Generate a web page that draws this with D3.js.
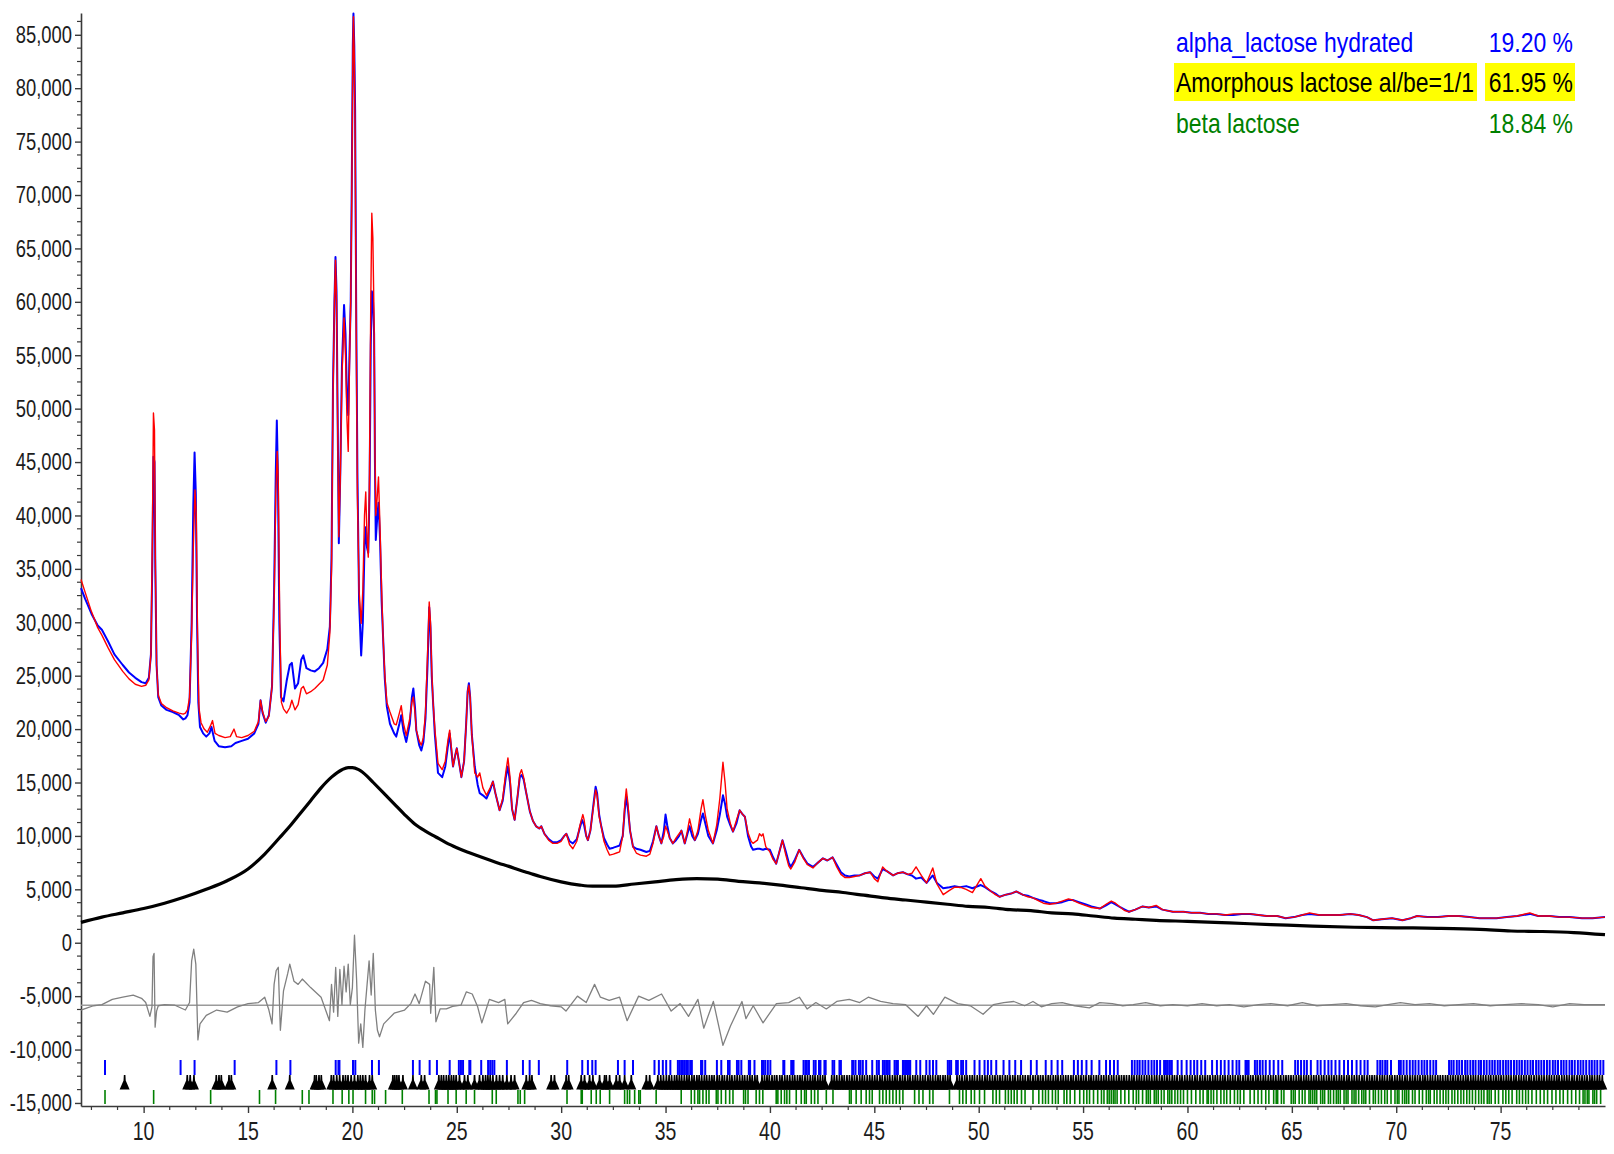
<!DOCTYPE html>
<html>
<head>
<meta charset="utf-8">
<script src="https://cdn.jsdelivr.net/npm/d3@7"></script>
<style>
  body { margin: 0; background: #fff; }
  svg { display: block; }
  text { font-family: "Liberation Sans", Arial, sans-serif; }
</style>
</head>
<body>
<svg id="chart" width="1614" height="1154"></svg>
<script>
// ---- Powder pattern: 2-theta (deg) vs counts ----
const observed = [
[7.0,33200],[7.2,32200],[7.5,30800],[7.8,29700],[8.0,29300],[8.3,28200],[8.6,27000],[9.0,26000],[9.3,25300],[9.6,24800],[9.9,24400],[10.1,24300],[10.25,24800],[10.35,27000],[10.42,36000],[10.47,45500],[10.52,45000],[10.56,35000],[10.62,26000],[10.7,23000],[10.85,22200],[11.1,21800],[11.4,21600],[11.7,21300],[11.9,20900],[12.0,21000],[12.1,21300],[12.2,22500],[12.3,30000],[12.38,41000],[12.44,45900],[12.5,42000],[12.56,30000],[12.62,22500],[12.7,20200],[12.85,19600],[13.0,19300],[13.15,19600],[13.25,20200],[13.4,18900],[13.6,18400],[13.9,18300],[14.2,18400],[14.4,18700],[14.7,18900],[15.0,19100],[15.3,19600],[15.5,20500],[15.6,22700],[15.7,21500],[15.85,20600],[16.0,21300],[16.15,24000],[16.25,33000],[16.33,44000],[16.38,48900],[16.43,44000],[16.5,30000],[16.58,23000],[16.7,22600],[16.85,24500],[17.0,26000],[17.1,26200],[17.25,23800],[17.4,24300],[17.55,26500],[17.65,26900],[17.8,25700],[18.0,25500],[18.2,25400],[18.4,25700],[18.6,26200],[18.8,27500],[18.92,29600],[19.0,36000],[19.07,52000],[19.14,60000],[19.19,64200],[19.24,61000],[19.29,50000],[19.35,37400],[19.42,44000],[19.5,54000],[19.6,59700],[19.67,57000],[19.74,51000],[19.8,49400],[19.86,55000],[19.92,60000],[19.97,71000],[20.02,84000],[20.05,87000],[20.09,84000],[20.13,78000],[20.18,60000],[20.24,44000],[20.32,32000],[20.42,26900],[20.5,30000],[20.58,37000],[20.64,38900],[20.7,37000],[20.76,36500],[20.82,42000],[20.88,56000],[20.93,61000],[20.98,60500],[21.04,57000],[21.08,45000],[21.12,37700],[21.18,39500],[21.25,41200],[21.32,38000],[21.4,32000],[21.47,28600],[21.55,24800],[21.65,22100],[21.8,20500],[22.0,19600],[22.1,19300],[22.25,20500],[22.34,21300],[22.45,19800],[22.58,18800],[22.75,20500],[22.85,23000],[22.92,23800],[23.0,22000],[23.06,19900],[23.2,18500],[23.3,18000],[23.4,18800],[23.5,21000],[23.6,26000],[23.68,31400],[23.74,29500],[23.8,25000],[23.86,22700],[23.95,19500],[24.1,15900],[24.3,15500],[24.45,16500],[24.58,18500],[24.66,19600],[24.74,18000],[24.82,16500],[24.92,17500],[25.0,18200],[25.1,17000],[25.22,15500],[25.35,17000],[25.45,20500],[25.52,23500],[25.58,24300],[25.64,23000],[25.72,19500],[25.86,16500],[26.0,14800],[26.1,14000],[26.25,13800],[26.42,13500],[26.6,14300],[26.73,15100],[26.85,14000],[27.05,12400],[27.2,13300],[27.35,15500],[27.45,16500],[27.55,15000],[27.65,12500],[27.77,11500],[27.9,13500],[28.02,15500],[28.1,15700],[28.2,15300],[28.33,14000],[28.5,12300],[28.65,11400],[28.8,10900],[28.95,10700],[29.05,10900],[29.2,10200],[29.4,9700],[29.6,9400],[29.8,9400],[30.0,9600],[30.15,10000],[30.25,10200],[30.4,9500],[30.56,9300],[30.75,9700],[30.9,10800],[31.0,11500],[31.1,11000],[31.2,10000],[31.28,9600],[31.4,10500],[31.55,13000],[31.65,14600],[31.72,14000],[31.82,12000],[31.92,10900],[32.05,9800],[32.2,9200],[32.32,8800],[32.5,8900],[32.65,9000],[32.8,9100],[32.95,10000],[33.05,12500],[33.12,13700],[33.2,12500],[33.3,10500],[33.44,9000],[33.6,8800],[33.8,8700],[34.08,8500],[34.25,8600],[34.4,9500],[34.56,10900],[34.68,10000],[34.8,9300],[34.92,10500],[35.0,12000],[35.08,11000],[35.2,9800],[35.35,9300],[35.5,9600],[35.65,10000],[35.76,10500],[35.92,9300],[36.05,10200],[36.15,10900],[36.28,10000],[36.4,9600],[36.55,10200],[36.7,11500],[36.79,12100],[36.9,11200],[37.05,10000],[37.27,9300],[37.45,10500],[37.6,12000],[37.75,13800],[37.85,13000],[37.95,11800],[38.1,11000],[38.23,10400],[38.4,11200],[38.55,12400],[38.7,12000],[38.8,11800],[38.95,10000],[39.1,9000],[39.19,8700],[39.4,8800],[39.5,8800],[39.67,8700],[39.8,8800],[40.0,8700],[40.15,8000],[40.3,7400],[40.45,8500],[40.6,9600],[40.75,8600],[40.9,7500],[41.0,7100],[41.2,7800],[41.4,8700],[41.6,8000],[41.8,7400],[42.06,7100],[42.3,7500],[42.54,7900],[42.75,7700],[43.0,8000],[43.2,7300],[43.4,6600],[43.6,6300],[43.8,6200],[44.05,6300],[44.3,6300],[44.55,6500],[44.8,6600],[45.0,6200],[45.17,6000],[45.4,6900],[45.6,6700],[45.9,6300],[46.1,6500],[46.37,6600],[46.6,6400],[46.8,6300],[47.0,6000],[47.25,6100],[47.5,5600],[47.8,6300],[48.0,5600],[48.3,5100],[48.6,5200],[48.85,5300],[49.1,5200],[49.4,5300],[49.7,5100],[50.1,5400],[50.3,5200],[50.6,4800],[50.8,4600],[51.0,4300],[51.3,4500],[51.55,4600],[51.8,4800],[52.1,4500],[52.35,4400],[52.6,4200],[52.9,4000],[53.1,3900],[53.4,3700],[53.7,3700],[54.0,3800],[54.3,4000],[54.5,4000],[54.8,3800],[55.1,3600],[55.4,3400],[55.8,3200],[56.1,3500],[56.35,3800],[56.55,3600],[56.8,3300],[57.0,3100],[57.2,2900],[57.5,3100],[57.85,3400],[58.15,3300],[58.5,3400],[58.8,3100],[59.3,2900],[59.8,2900],[60.2,2800],[60.6,2800],[61.0,2700],[61.4,2700],[61.8,2600],[62.2,2600],[62.6,2700],[63.0,2700],[63.4,2600],[63.8,2500],[64.3,2500],[64.7,2300],[65.1,2400],[65.5,2600],[65.85,2700],[66.3,2600],[66.8,2600],[67.3,2600],[67.8,2700],[68.2,2600],[68.6,2400],[68.9,2100],[69.3,2200],[69.8,2300],[70.3,2100],[70.7,2300],[71.0,2500],[71.5,2400],[72.0,2400],[72.5,2500],[73.0,2500],[73.5,2400],[74.0,2300],[74.4,2300],[74.8,2300],[75.3,2400],[75.8,2500],[76.4,2700],[76.8,2500],[77.35,2500],[77.8,2400],[78.3,2400],[78.9,2300],[79.4,2300],[80.0,2400]
];

const calculated = [
[7.0,34000],[7.2,32800],[7.5,31000],[7.8,29500],[8.0,28800],[8.3,27600],[8.6,26500],[9.0,25400],[9.3,24700],[9.6,24200],[9.9,24000],[10.1,24100],[10.25,24600],[10.35,27000],[10.42,38000],[10.47,49600],[10.52,48000],[10.56,36000],[10.62,26000],[10.7,23200],[10.85,22400],[11.1,22000],[11.4,21700],[11.7,21500],[11.9,21400],[12.0,21500],[12.1,21800],[12.2,23000],[12.3,29000],[12.38,37000],[12.46,42400],[12.52,40000],[12.58,29000],[12.65,22000],[12.75,20600],[12.9,20000],[13.05,19700],[13.2,20300],[13.3,20800],[13.42,19600],[13.6,19400],[13.9,19200],[14.15,19300],[14.33,20000],[14.45,19300],[14.7,19200],[15.0,19400],[15.3,19800],[15.5,20700],[15.6,22700],[15.7,21600],[15.85,20700],[16.0,21200],[16.15,24000],[16.25,32000],[16.33,42000],[16.4,46000],[16.45,43000],[16.52,30000],[16.6,22500],[16.7,21900],[16.85,21500],[17.0,22000],[17.1,22700],[17.25,21800],[17.4,22300],[17.55,23800],[17.65,24000],[17.8,23300],[18.0,23500],[18.2,23800],[18.4,24200],[18.6,24600],[18.8,26000],[18.92,29000],[19.0,35000],[19.07,51000],[19.14,60000],[19.19,63900],[19.24,60000],[19.29,49000],[19.35,38000],[19.42,43500],[19.5,53000],[19.6,58500],[19.67,55000],[19.74,49000],[19.8,46000],[19.86,54000],[19.92,60000],[19.97,70000],[20.02,83000],[20.05,86700],[20.09,83000],[20.13,76000],[20.18,58000],[20.24,42000],[20.32,33000],[20.42,29900],[20.5,33000],[20.58,40000],[20.64,42200],[20.7,38000],[20.76,36100],[20.82,44000],[20.88,60000],[20.93,68300],[20.98,66000],[21.04,58000],[21.08,46000],[21.12,40000],[21.18,41500],[21.25,43600],[21.32,39000],[21.4,33000],[21.47,28600],[21.55,25200],[21.65,22500],[21.8,21600],[22.0,20500],[22.1,20400],[22.25,21500],[22.34,22200],[22.45,20500],[22.58,19400],[22.75,21000],[22.85,22500],[22.92,23000],[23.0,21500],[23.06,19900],[23.2,18900],[23.3,18500],[23.4,19200],[23.5,21500],[23.6,27000],[23.68,31900],[23.74,30000],[23.8,25500],[23.86,22700],[23.95,20000],[24.1,16800],[24.3,16200],[24.45,17000],[24.58,19000],[24.66,19900],[24.74,18300],[24.82,16500],[24.92,17500],[25.0,18200],[25.1,17000],[25.22,15500],[25.35,17000],[25.45,20500],[25.52,23500],[25.58,24100],[25.64,23000],[25.72,19500],[25.86,15900],[26.0,15500],[26.1,15900],[26.25,14500],[26.42,13800],[26.6,14500],[26.73,15100],[26.85,14000],[27.05,12400],[27.2,13500],[27.35,16000],[27.45,17300],[27.55,15500],[27.65,12500],[27.77,11500],[27.9,13500],[28.02,15800],[28.1,16200],[28.2,15500],[28.33,14000],[28.5,12300],[28.65,11400],[28.8,10900],[28.95,10700],[29.05,10900],[29.2,10200],[29.4,9600],[29.6,9300],[29.8,9300],[30.0,9500],[30.15,10000],[30.25,10200],[30.4,9200],[30.56,8800],[30.75,9500],[30.9,11000],[31.04,12000],[31.1,11500],[31.2,10000],[31.28,9600],[31.4,10500],[31.55,12800],[31.65,14300],[31.72,13800],[31.82,11800],[31.92,10900],[32.05,9500],[32.2,8700],[32.32,8200],[32.5,8300],[32.65,8400],[32.8,8500],[32.95,10000],[33.05,13000],[33.12,14400],[33.2,13000],[33.3,10500],[33.44,9000],[33.6,8400],[33.8,8200],[34.08,8100],[34.25,8300],[34.4,9300],[34.56,10900],[34.68,10000],[34.8,9300],[34.92,10000],[35.0,10900],[35.08,10500],[35.2,9800],[35.35,9300],[35.5,9800],[35.65,10200],[35.76,10500],[35.92,9300],[36.05,10500],[36.15,11600],[36.28,10500],[36.4,9600],[36.55,10500],[36.7,12500],[36.79,13400],[36.9,12000],[37.05,10500],[37.27,9300],[37.45,11000],[37.6,13500],[37.75,16900],[37.85,15000],[37.95,12500],[38.1,11200],[38.23,10400],[38.4,11500],[38.55,12400],[38.7,12000],[38.8,11800],[38.95,10300],[39.1,9500],[39.19,9300],[39.4,9600],[39.5,10200],[39.6,10000],[39.67,10200],[39.8,9000],[40.0,8500],[40.15,7800],[40.3,7400],[40.45,8500],[40.6,9600],[40.75,8300],[40.9,7200],[41.0,6900],[41.2,7600],[41.4,8700],[41.6,7900],[41.8,7300],[42.06,7000],[42.3,7500],[42.54,7900],[42.75,7700],[43.0,8000],[43.2,7100],[43.4,6400],[43.6,6100],[43.8,6100],[44.05,6200],[44.3,6300],[44.55,6500],[44.8,6600],[45.0,6000],[45.17,5700],[45.4,7100],[45.6,6700],[45.9,6300],[46.1,6500],[46.37,6600],[46.6,6400],[46.8,6500],[47.0,7100],[47.25,6300],[47.5,5600],[47.8,7000],[48.0,5500],[48.3,4500],[48.6,4900],[48.85,5200],[49.1,5200],[49.4,5000],[49.7,4700],[50.1,6000],[50.3,5300],[50.6,4800],[50.8,4500],[51.0,4300],[51.3,4500],[51.55,4600],[51.8,4800],[52.1,4500],[52.35,4300],[52.6,4200],[52.9,3900],[53.1,3700],[53.4,3600],[53.7,3700],[54.0,3900],[54.3,4100],[54.5,4000],[54.8,3700],[55.1,3500],[55.4,3300],[55.8,3200],[56.1,3600],[56.35,3900],[56.55,3700],[56.8,3300],[57.0,3000],[57.2,2900],[57.5,3100],[57.85,3400],[58.15,3300],[58.5,3500],[58.8,3100],[59.3,2900],[59.8,2900],[60.2,2800],[60.6,2800],[61.0,2700],[61.4,2700],[61.8,2600],[62.2,2700],[62.6,2700],[63.0,2700],[63.4,2600],[63.8,2500],[64.3,2500],[64.7,2300],[65.1,2400],[65.5,2600],[65.85,2800],[66.3,2600],[66.8,2600],[67.3,2600],[67.8,2700],[68.2,2600],[68.6,2400],[68.9,2100],[69.3,2200],[69.8,2300],[70.3,2100],[70.7,2300],[71.0,2500],[71.5,2400],[72.0,2400],[72.5,2500],[73.0,2500],[73.5,2400],[74.0,2300],[74.4,2300],[74.8,2300],[75.3,2400],[75.8,2500],[76.4,2800],[76.8,2500],[77.35,2500],[77.8,2400],[78.3,2400],[78.9,2300],[79.4,2300],[80.0,2400]
];

const background = [
[7.0,1900],[8.0,2400],[9.0,2800],[10.0,3200],[11.0,3700],[12.0,4300],[13.0,5000],[14.0,5800],[15.0,6900],[15.8,8300],[16.5,9800],[17.0,10900],[17.5,12100],[18.0,13300],[18.5,14500],[19.0,15500],[19.5,16200],[19.8,16400],[20.0,16400],[20.3,16200],[20.7,15600],[21.0,15000],[21.5,14000],[22.0,13000],[22.5,12000],[23.0,11100],[23.5,10450],[24.0,9900],[24.5,9350],[25.0,8900],[25.5,8500],[26.0,8150],[26.5,7800],[27.0,7450],[27.5,7150],[28.0,6800],[28.5,6500],[29.0,6200],[30.0,5700],[30.9,5400],[31.5,5300],[32.5,5300],[33.5,5500],[34.5,5700],[35.5,5900],[36.5,6000],[37.5,5950],[38.5,5750],[39.5,5600],[40.5,5400],[41.5,5150],[42.5,4900],[43.5,4700],[44.5,4450],[45.5,4200],[46.5,4000],[47.5,3800],[48.5,3600],[49.5,3400],[50.5,3300],[51.5,3100],[52.5,3000],[53.5,2800],[54.5,2700],[55.5,2500],[56.5,2300],[57.5,2200],[58.5,2100],[60.0,2000],[62.0,1850],[64.0,1700],[66.0,1550],[68.0,1450],[70.0,1400],[72.0,1350],[74.0,1250],[75.5,1100],[77.0,1050],[78.5,950],[80.0,750]
];

const difference = [
[7.0,-6300],[7.3,-6100],[7.6,-5900],[8.0,-5800],[8.5,-5300],[9.0,-5100],[9.5,-4900],[9.9,-5200],[10.1,-5600],[10.3,-6900],[10.4,-6000],[10.45,-1300],[10.5,-1000],[10.55,-7900],[10.62,-6400],[10.7,-5900],[11.0,-5800],[11.5,-5850],[12.0,-6300],[12.2,-5600],[12.3,-1700],[12.4,-600],[12.5,-2000],[12.6,-9100],[12.7,-7600],[13.0,-6800],[13.5,-6300],[14.0,-6500],[14.5,-6000],[15.0,-5700],[15.5,-5600],[15.8,-5100],[16.0,-6300],[16.15,-7600],[16.25,-3900],[16.35,-2600],[16.45,-2300],[16.55,-8200],[16.7,-4500],[16.9,-2900],[17.0,-2000],[17.2,-3600],[17.4,-3900],[17.6,-3400],[18.0,-4200],[18.5,-5100],[18.9,-7300],[19.0,-3900],[19.1,-6500],[19.2,-2300],[19.3,-6900],[19.4,-2500],[19.5,-5800],[19.6,-2200],[19.7,-4600],[19.8,-2000],[19.9,-5800],[20.0,-4200],[20.1,700],[20.2,-3400],[20.3,-9400],[20.4,-7600],[20.5,-9800],[20.6,-6300],[20.8,-1700],[20.9,-4900],[21.0,-1000],[21.1,-6300],[21.2,-8200],[21.3,-8800],[21.5,-7600],[22.0,-6600],[22.5,-6300],[22.8,-5700],[23.0,-4800],[23.2,-5700],[23.5,-3600],[23.7,-3900],[23.75,-6600],[23.9,-2300],[24.0,-7400],[24.2,-6200],[24.5,-6200],[24.8,-5950],[25.2,-5850],[25.46,-4600],[25.74,-4800],[26.0,-6000],[26.2,-7500],[26.56,-5300],[27.0,-5600],[27.3,-5300],[27.44,-7600],[27.85,-6600],[28.2,-5600],[28.58,-5400],[29.0,-5700],[29.5,-5900],[30.0,-6000],[30.23,-6400],[30.78,-5000],[31.2,-5600],[31.6,-3900],[31.88,-5100],[32.3,-5400],[32.8,-5100],[33.16,-7300],[33.71,-5000],[34.2,-5400],[34.81,-4800],[35.27,-6400],[35.7,-5700],[36.1,-6900],[36.55,-5300],[36.83,-8000],[37.29,-5500],[37.75,-9600],[38.11,-7800],[38.66,-5500],[38.85,-7100],[39.2,-5900],[39.67,-7500],[40.31,-5700],[40.9,-5600],[41.41,-5100],[41.78,-6200],[42.2,-5600],[42.7,-6200],[43.2,-5500],[43.8,-5300],[44.3,-5600],[44.71,-5100],[45.3,-5500],[45.9,-5700],[46.5,-5800],[47.1,-6900],[47.5,-5900],[47.83,-6700],[48.38,-5100],[49.0,-5700],[49.6,-5900],[50.21,-6700],[50.7,-5800],[51.2,-5600],[51.68,-5500],[52.2,-5900],[52.6,-5500],[53.0,-6000],[53.5,-5700],[54.0,-5600],[54.6,-5900],[55.3,-6100],[55.8,-5600],[56.4,-5700],[56.9,-5900],[57.4,-5800],[58.0,-5600],[58.7,-5900],[59.3,-5800],[60.0,-5900],[60.7,-5700],[61.4,-5900],[62.0,-5800],[62.7,-6000],[63.4,-5800],[64.0,-5700],[64.8,-5900],[65.5,-5600],[66.2,-5900],[66.9,-5800],[67.6,-5700],[68.3,-5900],[69.0,-6000],[69.6,-5800],[70.2,-5600],[70.9,-5800],[71.6,-5700],[72.3,-5900],[73.0,-5800],[73.7,-5700],[74.5,-5900],[75.2,-5800],[76.0,-5700],[76.8,-5800],[77.5,-6000],[78.3,-5700],[79.0,-5800],[80.0,-5800]
];
const differenceOffset = -5850;

// ---- Phases and their reflection positions ----
const phaseNames = ["alpha_lactose hydrated", "Amorphous lactose al/be=1/1", "beta lactose"];
const phaseWeights = ["19.20 %", "61.95 %", "18.84 %"];
const phaseColors = ["#0000ff", "#000000", "#008000"];

const alphaReflections = [8.15,11.77,12.44,14.36,16.36,17.03,19.2,19.33,19.38,20.03,20.14,20.94,21.27,22.9,23.22,23.7,24.05,24.66,25.1,25.2,25.3,25.6,25.65,26.17,26.5,26.6,26.7,26.8,
27.4,28.17,28.49,28.93,30.29,31.01,31.28,31.49,31.65,32.72,33.04,33.44,34.47,34.68,34.87,35.03,35.23,35.59,35.67,35.75,35.83,35.91,35.99,36.07,36.18,36.26,36.7,36.76,36.9,37.46,37.67,37.99,38.07,38.42,38.5,38.63,38.99,39.05,39.26,39.62,39.7,39.78,39.9,40.02,40.64,40.69,41.02,41.08,41.13,41.61,41.7,41.77,41.87,42.1,42.19,42.35,42.42,42.61,42.67,43.0,43.08,43.33,43.4,43.94,44.0,44.1,44.26,44.34,44.45,44.61,44.9,45.12,45.22,45.41,45.49,45.57,45.65,45.73,45.97,46.05,46.13,46.37,46.42,46.5,46.55,46.61,46.66,46.72,47.01,47.2,47.49,47.65,47.81,47.97,48.52,48.6,48.68,48.92,49.0,49.16,49.25,49.4,49.8,50.04,50.28,50.44,50.6,50.84,
51.19,51.47,51.75,52.03,52.5,52.78,53.21,53.49,53.78,54.0,54.56,54.75,54.94,55.16,55.41,55.78,56.1,56.29,56.48,56.66,57.34,57.47,57.6,57.71,57.85,57.98,58.13,58.28,58.41,58.54,58.69,58.88,58.97,59.06,59.16,59.25,59.53,59.72,59.96,60.15,60.32,60.47,60.66,60.85,61.18,61.41,61.6,61.78,61.97,62.16,62.35,62.48,62.78,62.85,62.93,63.23,63.34,63.47,63.6,63.75,63.94,64.13,64.35,64.54,65.16,65.29,65.44,65.59,65.72,65.91,66.23,66.38,66.57,66.75,66.9,67.09,67.28,67.5,67.69,67.88,68.1,68.29,68.48,68.63,69.1,69.23,69.34,69.47,69.57,69.75,70.13,70.22,70.35,70.5,70.65,70.79,70.92,71.07,71.22,71.35,71.48,71.63,71.78,71.91,72.53,72.64,72.75,72.9,73.02,73.15,73.3,73.41,73.55,73.68,73.8,73.95,74.06,74.2,74.33,74.47,74.6,74.72,74.86,74.98,75.12,75.25,75.37,75.5,75.64,75.77,75.9,76.02,76.16,76.29,76.43,76.55,76.7,76.82,76.95,77.08,77.22,77.35,77.5,77.62,77.75,77.9,78.02,78.15,78.3,78.42,78.55,78.7,78.83,78.96,79.1,79.25,79.37,79.5,79.63,79.78,79.92];

const amorphousReflections = [9.09,12.09,12.23,12.41,13.48,13.61,13.72,14.09,14.2,16.16,17.0,18.19,18.27,18.4,18.51,18.99,19.1,19.25,19.39,19.55,19.67,19.79,19.94,20.1,20.26,20.38,20.5,20.63,20.82,20.95,21.94,22.03,22.13,22.23,22.42,22.9,23.3,23.46,24.14,24.26,24.37,24.5,24.62,24.74,24.85,24.97,25.13,25.37,25.53,25.85,26.09,26.25,26.38,26.49,26.6,26.73,26.9,
27.05,27.2,27.4,27.6,27.77,28.33,28.49,28.6,29.52,29.68,30.24,30.36,30.96,31.12,31.36,31.52,31.84,32.08,32.16,32.32,32.64,32.8,33.04,33.36,34.08,34.24,
34.63,34.77,34.9,35.04,35.17,35.29,35.43,35.54,35.66,35.77,35.9,36.02,36.13,36.26,36.37,36.5,36.61,36.73,36.86,36.97,37.1,37.22,37.33,37.47,37.58,37.71,37.82,37.95,38.07,38.18,38.31,38.43,38.55,38.68,38.79,38.92,39.04,39.15,39.28,39.39,39.62,39.74,39.86,39.97,40.1,40.22,40.33,40.47,40.58,40.71,40.83,40.95,41.08,41.19,41.32,41.44,41.55,41.68,41.8,41.93,42.05,42.16,42.29,42.41,42.53,42.64,42.96,43.08,43.2,43.33,43.45,43.56,43.69,43.81,43.93,44.05,44.17,44.3,44.42,44.53,44.66,44.78,44.9,45.02,45.14,45.27,45.38,45.51,45.63,45.74,45.87,45.99,46.1,46.23,46.35,46.47,46.6,46.71,46.84,46.96,47.07,47.2,47.32,47.44,47.57,47.68,47.8,47.93,48.05,48.16,48.29,48.4,48.52,48.63,48.96,49.08,49.2,49.33,49.44,49.57,49.69,49.8,49.93,50.05,50.17,50.3,50.41,50.53,50.66,50.78,50.9,51.02,51.14,51.27,51.38,51.5,51.63,51.74,51.87,51.99,52.11,52.23,52.36,52.47,52.6,52.72,52.84,52.96,53.08,53.21,53.33,53.44,53.57,53.69,53.8,53.93,54.05,54.17,54.29,54.42,54.53,54.66,54.78,54.9,55.02,55.14,55.27,55.38,55.5,55.63,55.74,55.87,55.99,56.11,56.23,56.36,56.47,56.6,56.72,56.84,56.96,57.08,57.21,57.33,57.44,57.57,57.69,57.8,57.93,58.05,58.17,58.29,58.42,58.53,58.66,58.78,58.9,59.02,59.14,59.27,59.38,59.5,59.63,59.74,59.87,59.99,60.11,60.23,60.36,60.47,60.6,60.72,60.84,60.96,61.08,61.21,61.33,61.44,61.57,61.69,61.8,61.93,62.05,62.17,62.29,62.42,62.53,62.66,62.78,62.9,63.02,63.14,63.27,63.38,63.5,63.63,63.74,63.87,63.99,64.11,64.23,64.36,64.47,64.6,64.72,64.84,64.96,65.08,65.21,65.33,65.44,65.57,65.69,65.8,65.93,66.05,66.17,66.29,66.42,66.53,66.66,66.78,66.9,67.02,67.14,67.27,67.38,67.5,67.63,67.74,67.87,67.99,68.11,68.23,68.36,68.47,68.6,68.72,68.84,68.96,69.08,69.21,69.33,69.44,69.57,69.69,69.8,69.93,70.05,70.17,70.29,70.42,70.53,70.66,70.78,70.9,71.02,71.14,71.27,71.38,71.5,71.63,71.74,71.87,71.99,72.11,72.23,72.36,72.47,72.6,72.72,72.84,72.96,73.08,73.21,73.33,73.44,73.57,73.69,73.8,73.93,74.05,74.17,74.29,74.42,74.53,74.66,74.78,74.9,75.02,75.14,75.27,75.38,75.5,75.63,75.74,75.87,75.99,76.11,76.23,76.36,76.47,76.6,76.72,76.84,76.96,77.08,77.21,77.33,77.44,77.57,77.69,77.8,77.93,78.05,78.17,78.29,78.42,78.53,78.66,78.78,78.9,79.02,79.14,79.27,79.38,79.5,79.63,79.74,79.87];

const betaReflections = [8.15,10.48,13.21,15.55,16.32,17.6,17.92,19.07,19.51,19.83,20.03,20.63,20.95,21.06,21.59,22.39,23.67,23.98,24.05,24.58,24.97,25.45,25.85,26.7,26.89,
27.93,28.04,28.25,30.28,30.96,31.01,31.44,31.68,31.87,32.32,33.04,33.17,33.28,33.52,33.72,33.79,34.55,35.75,36.23,36.39,36.55,36.63,36.79,36.95,37.08,37.43,37.51,37.67,37.88,38.07,38.23,38.74,38.83,38.95,39.34,39.5,39.66,40.3,40.38,40.54,40.7,40.81,40.94,41.26,41.5,41.66,41.74,41.98,42.14,42.3,42.7,43.02,43.81,43.89,44.13,44.37,44.61,44.77,44.9,45.25,45.41,45.57,45.73,45.89,46.05,46.21,46.37,46.93,47.14,47.33,47.65,47.81,48.6,49.08,49.24,49.4,49.64,49.8,50.04,50.28,50.68,50.84,51.0,
51.28,51.42,51.56,51.7,51.84,52.05,52.22,52.6,52.88,53.06,53.2,53.34,53.53,53.68,53.81,54.09,54.22,54.38,54.6,54.84,55.03,55.18,55.31,55.5,55.7,55.88,56.0,56.16,56.25,56.35,56.45,56.53,56.63,56.81,57.0,57.19,57.4,57.55,57.66,57.85,58.03,58.12,58.22,58.41,58.5,58.6,58.75,58.88,59.06,59.15,59.25,59.4,59.53,59.67,59.81,60.0,60.19,60.4,60.6,60.75,60.94,61.0,61.13,61.25,61.41,61.6,61.75,61.88,62.05,62.25,62.4,62.53,62.7,63.0,63.2,63.38,63.55,63.75,63.9,64.13,64.25,64.32,64.5,64.62,64.97,65.07,65.16,65.35,65.5,65.63,65.82,65.9,66.0,66.1,66.19,66.38,66.48,66.57,66.75,66.85,67.0,67.13,67.22,67.32,67.5,67.6,67.69,67.88,67.98,68.07,68.2,68.35,68.45,68.54,68.72,68.9,69.0,69.15,69.29,69.45,69.57,69.75,69.94,70.05,70.13,70.3,70.41,70.5,70.6,70.78,70.9,71.1,71.26,71.44,71.55,71.63,71.82,71.95,72.1,72.25,72.38,72.5,72.67,72.8,72.95,73.1,73.23,73.38,73.51,73.65,73.8,73.95,74.08,74.2,74.36,74.45,74.55,74.74,74.9,75.11,75.25,75.39,75.55,75.77,75.9,76.05,76.2,76.33,76.5,76.71,76.9,77.08,77.25,77.46,77.65,77.84,78.0,78.21,78.4,78.6,78.78,78.95,79.04,79.15,79.23,79.42,79.5,79.6,79.79];

// ---- Axis ticks ----
const yTickValues = [-15000,-10000,-5000,0,5000,10000,15000,20000,25000,30000,35000,40000,45000,50000,55000,60000,65000,70000,75000,80000,85000];
const xTickValues = [10,15,20,25,30,35,40,45,50,55,60,65,70,75];

// ---- Layout ----
const svg = d3.select("#chart");
const x = d3.scaleLinear().domain([7, 80]).range([81, 1605]);
const y = d3.scaleLinear().domain([-15285, 87040]).range([1106, 13]);
const axisColor = "#3a3a3a";
const labelColor = "#1c1c1c";

// Condensed text: regular sans squeezed horizontally.
function narrowText(g, str, px, py, size, sx, anchor, fill) {
  return g.append("text")
    .attr("transform", `translate(${px},${py}) scale(${sx},1)`)
    .attr("text-anchor", anchor)
    .attr("font-size", size)
    .attr("fill", fill)
    .text(str);
}

// ---- Axes ----
const minorY = d3.range(-15000, 87000, 1250).filter(v => v % 5000 !== 0);
const minorX = d3.range(7.5, 80.01, 1.25).filter(v => Math.abs(v / 5 - Math.round(v / 5)) > 1e-6);

const yAxisG = svg.append("g").attr("transform", "translate(81,0)");
yAxisG.call(d3.axisLeft(y).tickValues(yTickValues).tickSize(6).tickSizeOuter(0).tickFormat(""));
yAxisG.select(".domain").attr("stroke", axisColor).attr("stroke-width", 1.6);
yAxisG.selectAll(".tick line").attr("stroke", axisColor).attr("stroke-width", 1.4);
yAxisG.selectAll(".minor").data(minorY).join("line")
  .attr("x1", -4).attr("x2", 0)
  .attr("y1", d => y(d)).attr("y2", d => y(d))
  .attr("stroke", axisColor).attr("stroke-width", 1.2);
const fmt = d3.format(",");
yTickValues.forEach(v => {
  narrowText(svg, fmt(v).replace("\u2212", "-"), 72, y(v) + 8.3, 23, 0.8, "end", labelColor);
});

const xAxisG = svg.append("g").attr("transform", "translate(0,1106)");
xAxisG.call(d3.axisBottom(x).tickValues(xTickValues).tickSize(7).tickSizeOuter(0).tickFormat(""));
xAxisG.select(".domain").attr("stroke", axisColor).attr("stroke-width", 1.6);
xAxisG.selectAll(".tick line").attr("stroke", axisColor).attr("stroke-width", 1.4);
xAxisG.selectAll(".minor").data(minorX).join("line")
  .attr("x1", d => x(d)).attr("x2", d => x(d))
  .attr("y1", 0).attr("y2", 4)
  .attr("stroke", axisColor).attr("stroke-width", 1.2);
xTickValues.forEach(v => {
  narrowText(svg, String(v), x(v), 1140, 25, 0.78, "middle", labelColor);
});

// ---- Curves ----
const line = d3.line().x(d => x(d[0])).y(d => y(d[1]));
const smooth = d3.line().x(d => x(d[0])).y(d => y(d[1])).curve(d3.curveMonotoneX);

// difference zero line and difference curve
svg.append("line")
  .attr("x1", x(7)).attr("x2", x(80))
  .attr("y1", y(differenceOffset)).attr("y2", y(differenceOffset))
  .attr("stroke", "#9a9a9a").attr("stroke-width", 1.6);
svg.append("path").datum(difference)
  .attr("d", line).attr("fill", "none")
  .attr("stroke", "#808080").attr("stroke-width", 1.3).attr("stroke-linejoin", "round");

// background (amorphous contribution)
svg.append("path").datum(background)
  .attr("d", smooth).attr("fill", "none")
  .attr("stroke", "#000").attr("stroke-width", 3.2);

// observed and calculated patterns
svg.append("path").datum(observed)
  .attr("d", line).attr("fill", "none")
  .attr("stroke", "#0000ff").attr("stroke-width", 2).attr("stroke-linejoin", "round");
svg.append("path").datum(calculated)
  .attr("d", line).attr("fill", "none")
  .attr("stroke", "#ff0000").attr("stroke-width", 1.4).attr("stroke-linejoin", "round");

// ---- Reflection markers ----
svg.append("g").selectAll("line").data(alphaReflections).join("line")
  .attr("x1", d => x(d)).attr("x2", d => x(d))
  .attr("y1", 1060).attr("y2", 1075)
  .attr("stroke", phaseColors[0]).attr("stroke-width", 2);

svg.append("g").selectAll("path").data(amorphousReflections).join("path")
  .attr("d", d => {
    const c = x(d);
    return `M${c - 5},1089.5 L${c - 1.1},1080.5 L${c - 0.8},1075 L${c + 0.8},1075 L${c + 1.1},1080.5 L${c + 5},1089.5 Z`;
  })
  .attr("fill", phaseColors[1]);

svg.append("g").selectAll("line").data(betaReflections).join("line")
  .attr("x1", d => x(d)).attr("x2", d => x(d))
  .attr("y1", 1090).attr("y2", 1104)
  .attr("stroke", phaseColors[2]).attr("stroke-width", 1.6);

// ---- Phase legend with weight fractions ----
const legend = svg.append("g");
legend.append("rect").attr("x", 1174).attr("y", 63).attr("width", 303).attr("height", 38).attr("fill", "#ffff00");
legend.append("rect").attr("x", 1485).attr("y", 63).attr("width", 90).attr("height", 38).attr("fill", "#ffff00");
const rowBase = [51.5, 91.8, 132.5];
phaseNames.forEach((name, i) => {
  narrowText(legend, name, 1176, rowBase[i], 28, 0.82, "start", phaseColors[i]);
  narrowText(legend, phaseWeights[i], 1573, rowBase[i], 28, 0.82, "end", phaseColors[i]);
});
</script>
</body>
</html>
